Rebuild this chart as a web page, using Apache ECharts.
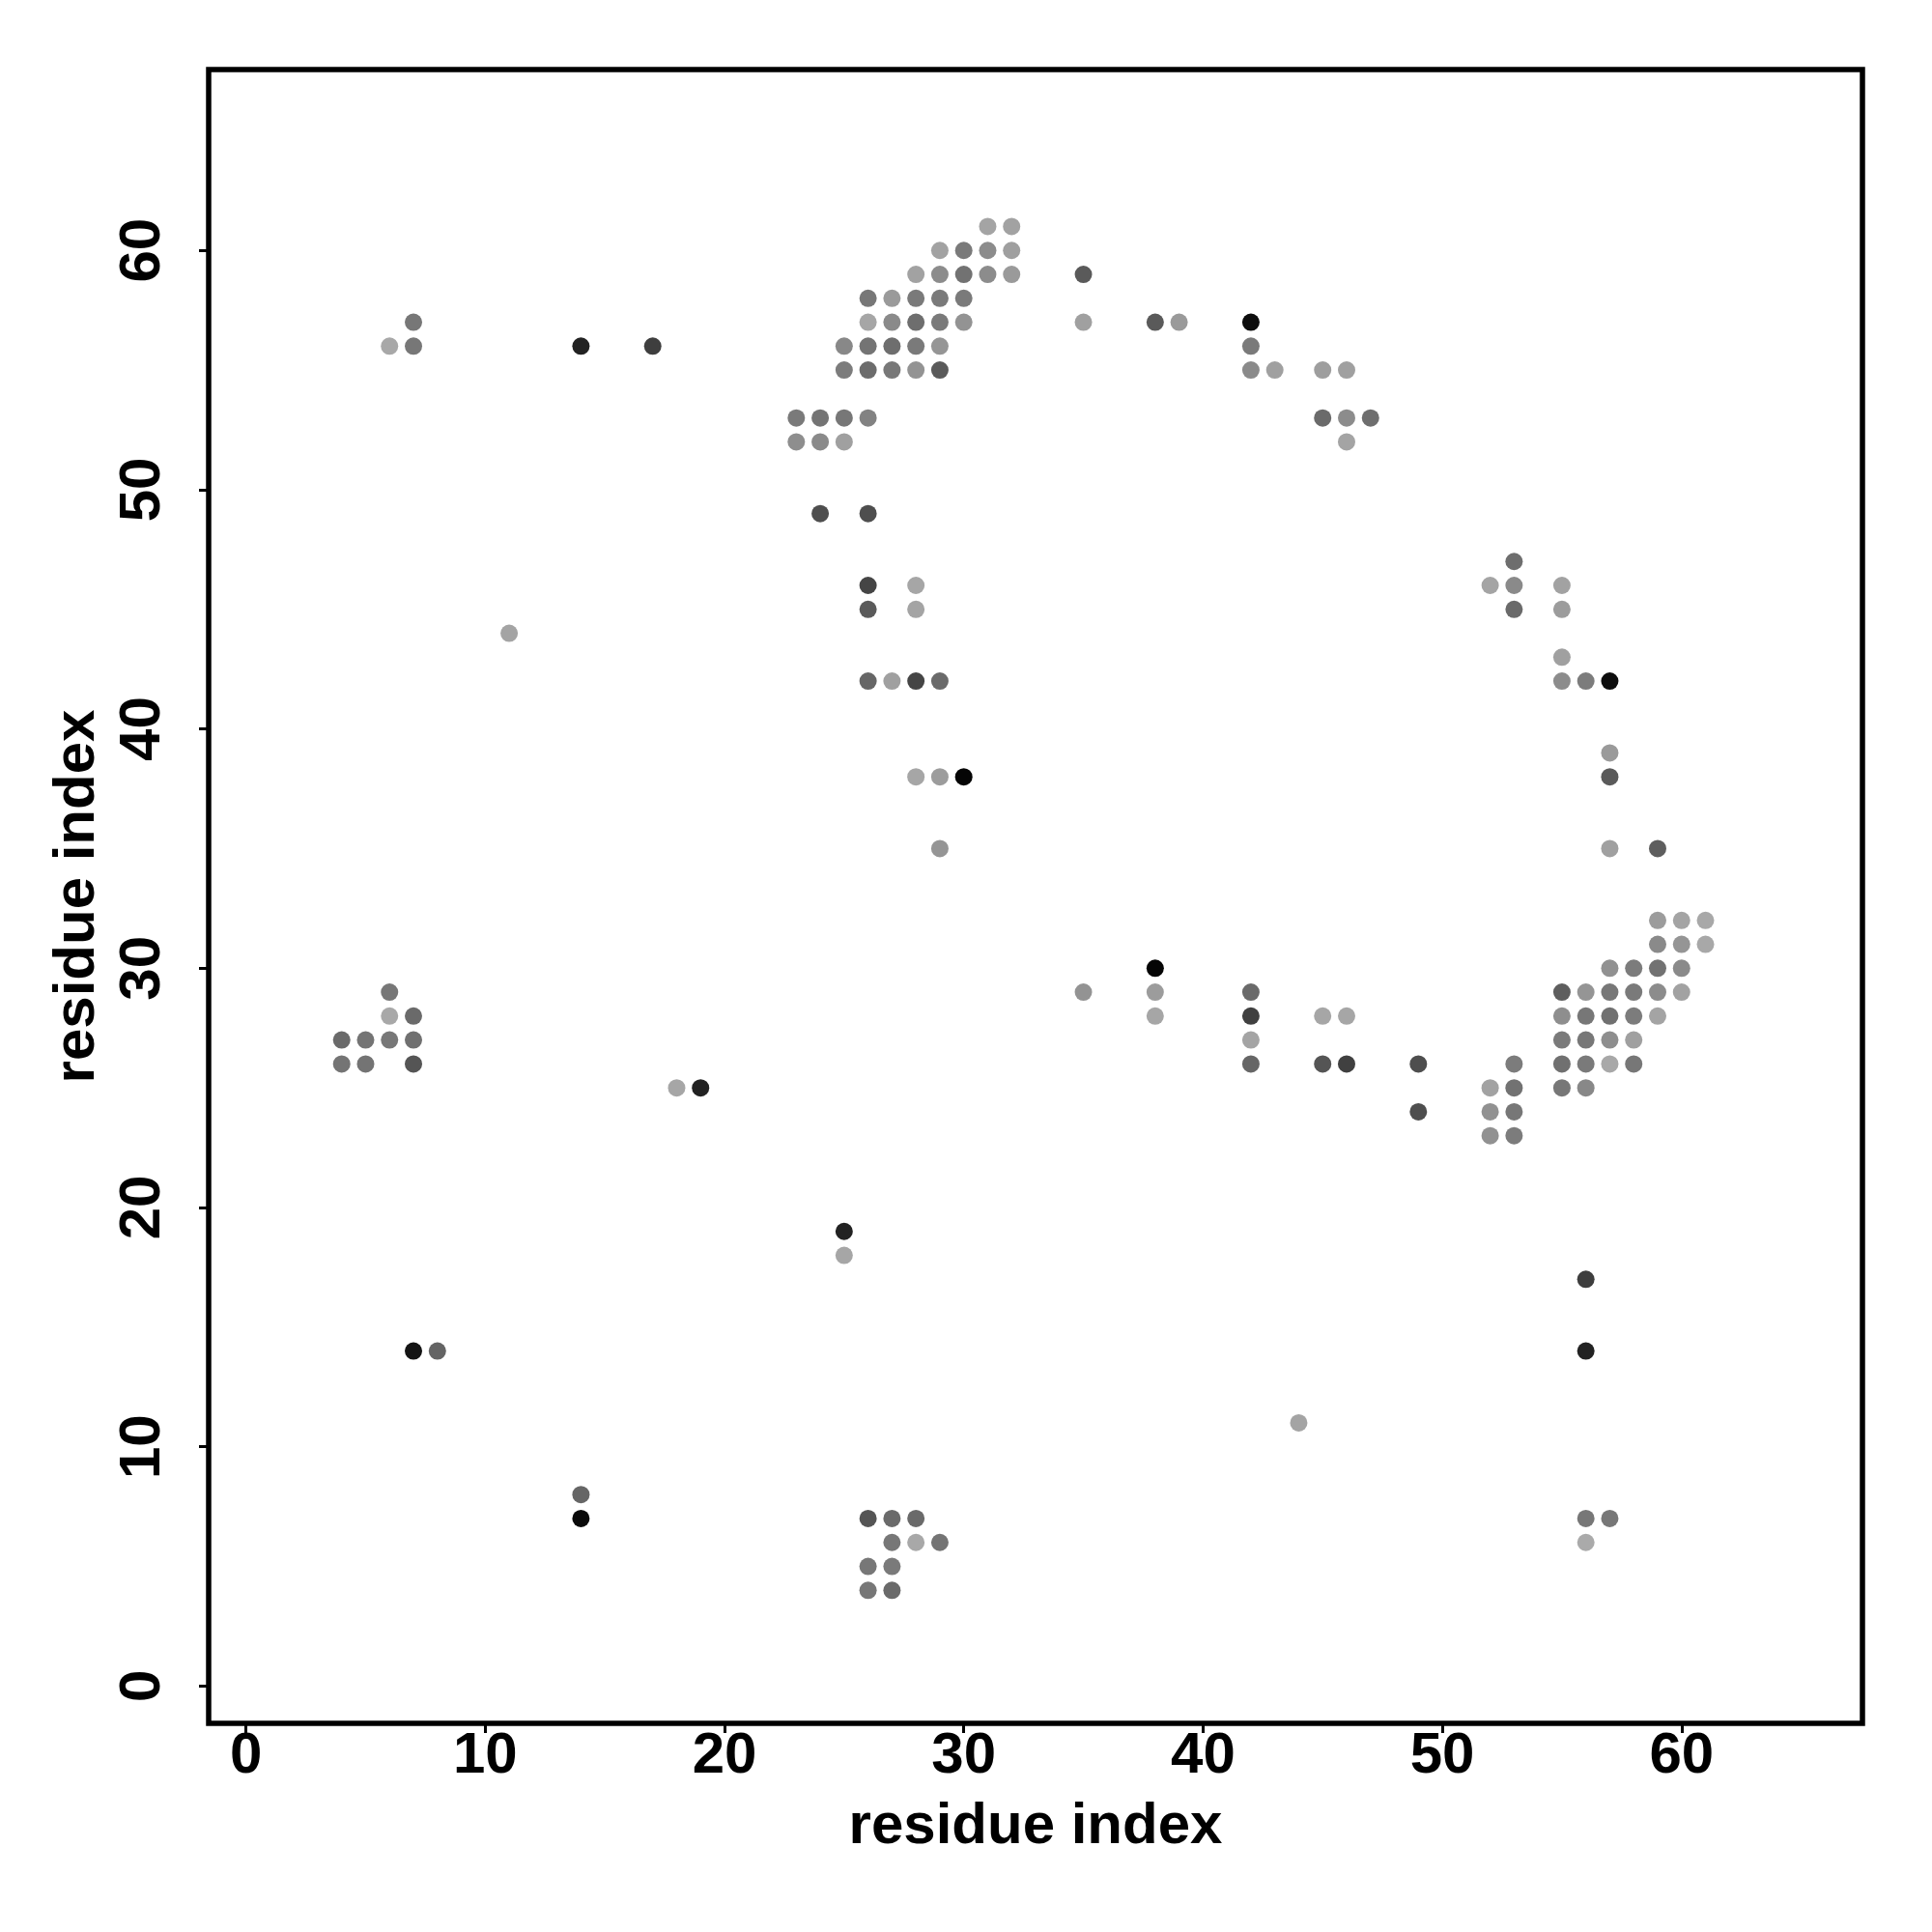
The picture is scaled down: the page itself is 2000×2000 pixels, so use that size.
<!DOCTYPE html>
<html>
<head>
<meta charset="utf-8">
<script src="https://cdn.jsdelivr.net/npm/echarts@6/dist/echarts.min.js"></script>
<style>
  html, body { margin: 0; padding: 0; background: #fff; }
  #chart { width: 2000px; height: 2000px; }
</style>
</head>
<body>
<div id="chart"></div>
<script>
// Each contact: [residue i (x), residue j (y), gray level 0-255 of the dot]
var topCluster = [
  [31,61,164],[32,61,162],
  [29,60,162],[30,60,122],[31,60,140],[32,60,159],
  [28,59,162],[29,59,140],[30,59,114],[31,59,140],[32,59,154],[35,59,90],
  [26,58,119],[27,58,154],[28,58,122],[29,58,122],[30,58,122],
  [26,57,166],[27,57,138],[28,57,110],[29,57,122],[30,57,147],[35,57,160],[38,57,90],[39,57,154],[42,57,13],
  [25,56,136],[26,56,116],[27,56,110],[28,56,122],[29,56,149],[42,56,122],
  [25,55,124],[26,55,108],[27,55,120],[28,55,147],[29,55,90],[42,55,138],[43,55,160],[45,55,158],[46,55,160],
  [23,53,122],[24,53,116],[25,53,119],[26,53,130],[45,53,106],[46,53,140],[47,53,110],
  [23,52,142],[24,52,138],[25,52,160],[46,52,164]
];
var midCluster = [
  [24,49,78],[26,49,78],
  [26,46,69],[28,46,166],
  [26,45,90],[28,45,164],
  [26,42,102],[27,42,160],[28,42,69],[29,42,106],
  [28,38,166],[29,38,156],[30,38,5],
  [29,35,149]
];
var upperLeft = [
  [7,57,119],[6,56,168],[7,56,119],[14,56,34],[17,56,62],[11,44,164]
];
var rightCluster = [
  [53,47,110],
  [52,46,164],[53,46,138],[55,46,162],
  [53,45,106],[55,45,156],
  [55,43,160],
  [55,42,140],[56,42,124],[57,42,13],
  [57,39,154],
  [57,38,90],
  [57,35,160],[59,35,94],
  [59,32,156],[60,32,164],[61,32,168],
  [59,31,138],[60,31,149],[61,31,168],
  [57,30,145],[58,30,124],[59,30,114],[60,30,138],
  [55,29,94],[56,29,149],[57,29,119],[58,29,122],[59,29,140],[60,29,162],
  [55,28,142],[56,28,119],[57,28,112],[58,28,124],[59,28,164],
  [55,27,122],[56,27,119],[57,27,142],[58,27,160],
  [53,26,124],[55,26,112],[56,26,122],[57,26,168],[58,26,119],
  [52,25,162],[53,25,114],[55,25,119],[56,25,136],
  [52,24,145],[53,24,119],
  [52,23,145],[53,23,124]
];
var centerRow = [
  [38,30,5],
  [35,29,147],[38,29,156],[42,29,106],
  [38,28,166],[42,28,64],[45,28,166],[46,28,166],
  [42,27,164],
  [42,26,102],[45,26,85],[46,26,64],[49,26,78],
  [49,24,78]
];
var leftCluster = [
  [6,29,119],
  [6,28,168],[7,28,106],
  [4,27,106],[5,27,116],[6,27,119],[7,27,112],
  [4,26,116],[5,26,116],[7,26,85],
  [18,25,166],[19,25,34]
];
var lowerCluster = [
  [25,19,34],[25,18,166],
  [7,14,20],[8,14,100],
  [14,8,102],[14,7,10],
  [26,7,85],[27,7,106],[28,7,106],
  [27,6,119],[28,6,168],[29,6,116],
  [26,5,119],[27,5,122],
  [26,4,119],[27,4,106],
  [56,17,62],[56,14,34],[44,11,164],
  [56,7,119],[57,7,119],[56,6,170]
];
var xTicks = [0,10,20,30,40,50,60];
var yTicks = [0,10,20,30,40,50,60];
var axisMin = -1.56, axisMax = 67.56;
var axisTitle = 'residue index';

var allContacts = [].concat(topCluster, midCluster, upperLeft, rightCluster, centerRow, leftCluster, lowerCluster);

var font = 'Liberation Sans';
var chart = echarts.init(document.getElementById('chart'), null, {renderer: 'canvas'});
chart.setOption({
  animation: false,
  backgroundColor: '#ffffff',
  grid: {
    left: 216, top: 72, width: 1712, height: 1712,
    show: true, borderColor: '#000', borderWidth: 5.5, backgroundColor: 'transparent'
  },
  xAxis: {
    type: 'value', min: axisMin, max: axisMax,
    name: axisTitle, nameLocation: 'middle', nameGap: 77,
    nameTextStyle: {fontFamily: font, fontWeight: 'bold', fontSize: 60, color: '#000'},
    axisLine: {show: false, onZero: false},
    splitLine: {show: false},
    axisTick: {show: true, customValues: xTicks, length: 10, lineStyle: {color: '#000', width: 3}},
    axisLabel: {customValues: xTicks, margin: 4, fontFamily: font, fontWeight: 'bold', fontSize: 60, color: '#000'}
  },
  yAxis: {
    type: 'value', min: axisMin, max: axisMax,
    name: axisTitle, nameLocation: 'middle', nameGap: 103,
    nameTextStyle: {fontFamily: font, fontWeight: 'bold', fontSize: 60, color: '#000'},
    axisLine: {show: false, onZero: false},
    splitLine: {show: false},
    axisTick: {show: true, customValues: yTicks, length: 10, lineStyle: {color: '#000', width: 3}},
    axisLabel: {customValues: yTicks, rotate: 90, margin: 38, fontFamily: font, fontWeight: 'bold', fontSize: 60, color: '#000'}
  },
  series: [{
    type: 'scatter',
    data: allContacts,
    encode: {x: 0, y: 1},
    symbol: 'circle',
    symbolSize: 18,
    silent: true,
    clip: false,
    itemStyle: {
      opacity: 1,
      color: function (p) {
        var g = p.data[2];
        return 'rgb(' + g + ',' + g + ',' + g + ')';
      }
    }
  }]
});
</script>
</body>
</html>
